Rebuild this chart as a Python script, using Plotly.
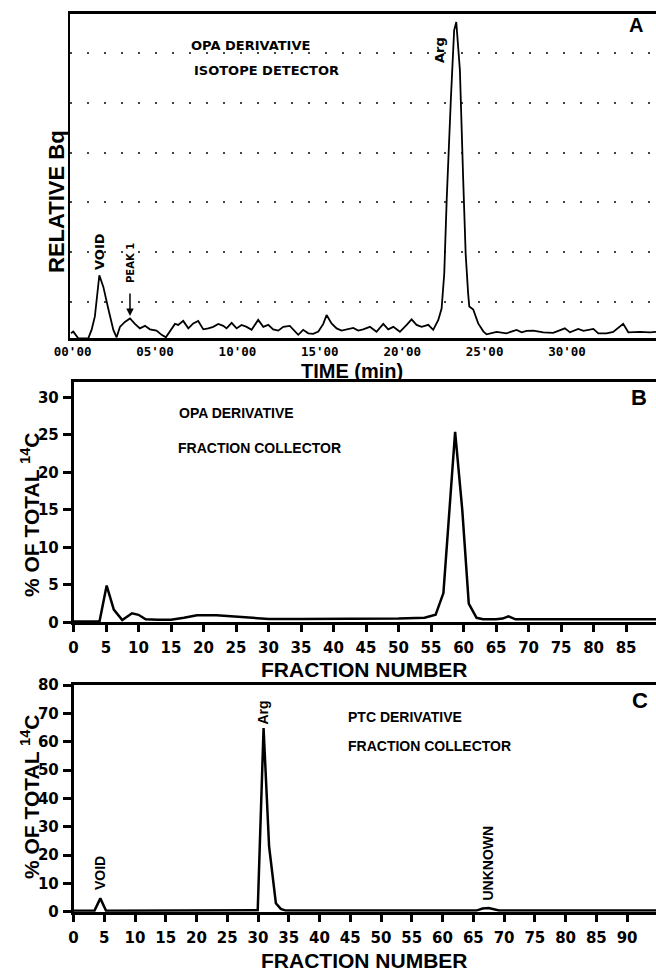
import plotly.graph_objects as go

# ---------------- data ----------------
# Panel A: isotope detector trace (time in min, relative Bq)
time_a = [-0.1, 0.04, 0.34, 0.95, 1.15, 1.35, 1.62, 1.86, 2.16, 2.47, 2.67, 2.87, 3.17, 3.48,
          3.78, 4.08, 4.39, 4.69, 5.09, 5.40, 5.66, 5.90, 6.21, 6.41, 6.71, 7.02, 7.32, 7.62,
          7.93, 8.23, 8.53, 8.84, 9.14, 9.34, 9.65, 9.95, 10.25, 10.56, 10.86, 11.26, 11.57,
          11.87, 12.17, 12.48, 12.78, 13.18, 13.49, 13.69, 13.99, 14.30, 14.60, 14.91, 15.21,
          15.41, 15.71, 16.02, 16.32, 16.62, 17.03, 17.33, 17.63, 18.04, 18.44, 18.85, 19.15,
          19.46, 19.86, 20.27, 20.57, 20.87, 21.18, 21.58, 21.88, 22.19, 22.39, 22.55, 22.70,
          22.95, 23.15, 23.28, 23.50, 23.70, 23.85, 24.00, 24.07, 24.31, 24.61, 24.92, 25.12,
          25.73, 26.33, 26.94, 27.25, 27.55, 27.95, 28.56, 29.16, 29.87, 30.18, 30.68, 31.00,
          31.60, 31.90, 32.40, 32.80, 33.41, 33.72, 34.42, 35.03, 35.40]
signal_a = [0.10, 0.135, 0.0, 0.0, 0.17, 0.44, 1.27, 1.04, 0.60, 0.17, 0.02, 0.23, 0.33, 0.40,
            0.29, 0.20, 0.25, 0.18, 0.155, 0.07, 0.02, 0.135, 0.29, 0.27, 0.35, 0.20, 0.30, 0.35,
            0.18, 0.20, 0.23, 0.29, 0.25, 0.20, 0.31, 0.20, 0.27, 0.23, 0.17, 0.37, 0.23,
            0.27, 0.18, 0.155, 0.23, 0.25, 0.135, 0.07, 0.17, 0.10, 0.09, 0.135, 0.29,
            0.47, 0.30, 0.20, 0.155, 0.18, 0.21, 0.155, 0.18, 0.23, 0.13, 0.29, 0.18,
            0.23, 0.13, 0.27, 0.38, 0.27, 0.23, 0.27, 0.17, 0.37, 0.60, 1.30, 2.80,
            4.80, 6.20, 6.37, 5.40, 3.20, 1.70, 0.90, 0.64, 0.58, 0.30, 0.14, 0.08,
            0.13, 0.10, 0.17, 0.12, 0.15, 0.155, 0.12, 0.11, 0.20, 0.12, 0.19, 0.15,
            0.19, 0.10, 0.10, 0.13, 0.29, 0.12, 0.13, 0.12, 0.13]
time_tickvals = [0, 5, 10, 15, 20, 25, 30]
time_ticktext = ["00'00", "05'00", "10'00", "15'00", "20'00", "25'00", "30'00"]

# Panel B: OPA derivative, fraction collector (% of total 14C)
fraction_b = [0, 4.0, 5.1, 6.2, 7.5, 9.0, 10.0, 11.1, 13, 15, 17, 19, 22, 25, 28, 30, 35, 40,
              45, 50, 54, 55.7, 56.9, 58.7, 59.8, 60.8, 62.0, 63, 65, 66, 66.9, 68, 75, 80,
              85, 89.6]
percent_b = [0.1, 0.1, 4.9, 1.7, 0.3, 1.2, 1.0, 0.4, 0.35, 0.35, 0.6, 0.95, 0.95, 0.75, 0.55,
             0.45, 0.45, 0.45, 0.45, 0.5, 0.6, 1.0, 3.9, 25.4, 15.0, 2.5, 0.6, 0.4, 0.4, 0.5,
             0.8, 0.4, 0.4, 0.4, 0.4, 0.4]
ticks_b = list(range(0, 90, 5))
yticks_b = [0, 5, 10, 15, 20, 25, 30]

# Panel C: PTC derivative, fraction collector (% of total 14C)
fraction_c = [0, 3.4, 4.36, 5.3, 29.95, 30.9, 31.8, 32.9, 33.7, 34.5, 65.5, 66.5, 67.5, 68.5,
              69.2, 94.7]
percent_c = [0.3, 0.3, 4.7, 0.3, 0.5, 64.8, 23.0, 3.0, 1.0, 0.4, 0.4, 1.1, 1.3, 0.9, 0.4, 0.4]
ticks_c = list(range(0, 95, 5))
yticks_c = [0, 10, 20, 30, 40, 50, 60, 70, 80]

# ---------------- layout helpers ----------------
W, H = 656, 971


def px(x):
    return x / W


def py(y):
    return 1 - y / H


BOLD = "Liberation Sans"
TICKF = dict(family="DejaVu Sans", size=15, color="black", weight="bold")

fig = go.Figure()
fig.add_trace(go.Scatter(x=time_a, y=signal_a, mode="lines", xaxis="x", yaxis="y",
                         line=dict(color="black", width=1.8), showlegend=False))
fig.add_trace(go.Scatter(x=fraction_b, y=percent_b, mode="lines", xaxis="x2", yaxis="y2",
                         line=dict(color="black", width=2.5), showlegend=False))
fig.add_trace(go.Scatter(x=fraction_c, y=percent_c, mode="lines", xaxis="x3", yaxis="y3",
                         line=dict(color="black", width=2.5), showlegend=False))

fig.update_layout(
    width=W, height=H, margin=dict(l=0, r=0, t=0, b=0, autoexpand=False),
    paper_bgcolor="white", plot_bgcolor="white", showlegend=False,
    xaxis=dict(domain=[px(69.5), 1], range=[-0.19, 35.4], anchor="y", automargin=False,
               tickvals=time_tickvals, ticktext=time_ticktext, ticks="",
               tickfont=dict(family="DejaVu Sans Mono", size=12.5, color="black", weight="bold"),
               ticklabelstandoff=0,
               showline=True, linecolor="black", linewidth=3, mirror=True,
               showgrid=False, zeroline=False),
    yaxis=dict(domain=[py(338.3), py(14)], range=[0, 6.53], anchor="x", automargin=False,
               tick0=0.74, dtick=1, showticklabels=False, ticks="",
               showgrid=True, gridcolor="#444", gridwidth=1.5, griddash="2px,15px",
               showline=True, linecolor="black", linewidth=2, zeroline=False),
    xaxis2=dict(domain=[px(73.5), 1], range=[0, 89.6], anchor="y2", automargin=False,
                tickvals=ticks_b, ticks="outside", ticklen=7, tickwidth=2.5, tickcolor="black",
                tickfont=TICKF, ticklabelstandoff=3,
                showline=True, linecolor="black", linewidth=3, mirror=True,
                showgrid=False, zeroline=False),
    yaxis2=dict(domain=[py(622.3), py(381.7)], range=[0, 32.1], anchor="x2", automargin=False,
                tickvals=yticks_b, ticks="outside", ticklen=8, tickwidth=2.5, tickcolor="black",
                tickfont=TICKF, ticklabelstandoff=1,
                showline=True, linecolor="black", linewidth=2.5,
                showgrid=False, zeroline=False),
    xaxis3=dict(domain=[px(73.5), 1], range=[0, 94.7], anchor="y3", automargin=False,
                tickvals=ticks_c, ticks="outside", ticklen=7, tickwidth=2.5, tickcolor="black",
                tickfont=TICKF, ticklabelstandoff=3,
                showline=True, linecolor="black", linewidth=3, mirror=True,
                showgrid=False, zeroline=False),
    yaxis3=dict(domain=[py(911.7), py(685)], range=[0, 80], anchor="x3", automargin=False,
                tickvals=yticks_c, ticks="outside", ticklen=8, tickwidth=2.5, tickcolor="black",
                tickfont=TICKF, ticklabelstandoff=1,
                showline=True, linecolor="black", linewidth=2.5,
                showgrid=False, zeroline=False),
)


def note(text, x, y, size, family=BOLD, angle=0, xanchor="center"):
    fig.add_annotation(text=text, x=px(x), y=py(y), xref="paper", yref="paper",
                       showarrow=False, textangle=angle, xanchor=xanchor, yanchor="middle",
                       font=dict(family=family, size=size, color="black", weight="bold"))


# Panel A texts
note("RELATIVE Bq", 56, 202, 22, angle=-90)
note("TIME (min)", 352, 371, 20)
note("OPA DERIVATIVE", 189, 45, 13, family="DejaVu Sans", xanchor="left")
note("ISOTOPE DETECTOR", 192, 71, 13, family="DejaVu Sans", xanchor="left")
note("VOID", 99, 252, 13, family="DejaVu Sans", angle=-90)
note("PEAK 1", 130, 263, 10, family="DejaVu Sans", angle=-90)
note("Arg", 439, 50, 13, family="DejaVu Sans", angle=-90)
note("A", 636, 25, 20)
fig.add_annotation(x=3.48, y=0.45, xref="x", yref="y", ax=0, ay=-24, axref="pixel",
                   ayref="pixel", showarrow=True, arrowhead=2, arrowsize=1, arrowwidth=1.5,
                   arrowcolor="black", text="")

# Panel B texts
note("% OF TOTAL <sup>14</sup>C", 30, 515, 21, angle=-90)
note("FRACTION NUMBER", 364, 669, 21)
note("OPA DERIVATIVE", 176.5, 413, 14, xanchor="left")
note("FRACTION COLLECTOR", 175.5, 448, 14, xanchor="left")
note("B", 639, 397, 22)

# Panel C texts
note("% OF TOTAL <sup>14</sup>C", 30, 797, 21, angle=-90)
note("FRACTION NUMBER", 364, 960, 21)
note("PTC DERIVATIVE", 346, 717, 14, xanchor="left")
note("FRACTION COLLECTOR", 346, 746, 14, xanchor="left")
note("VOID", 100, 873, 14, angle=-90)
note("Arg", 262.5, 713, 14, angle=-90)
note("UNKNOWN", 487.5, 863, 14, angle=-90)
note("C", 640, 700, 22)

fig.write_html("out.html")
